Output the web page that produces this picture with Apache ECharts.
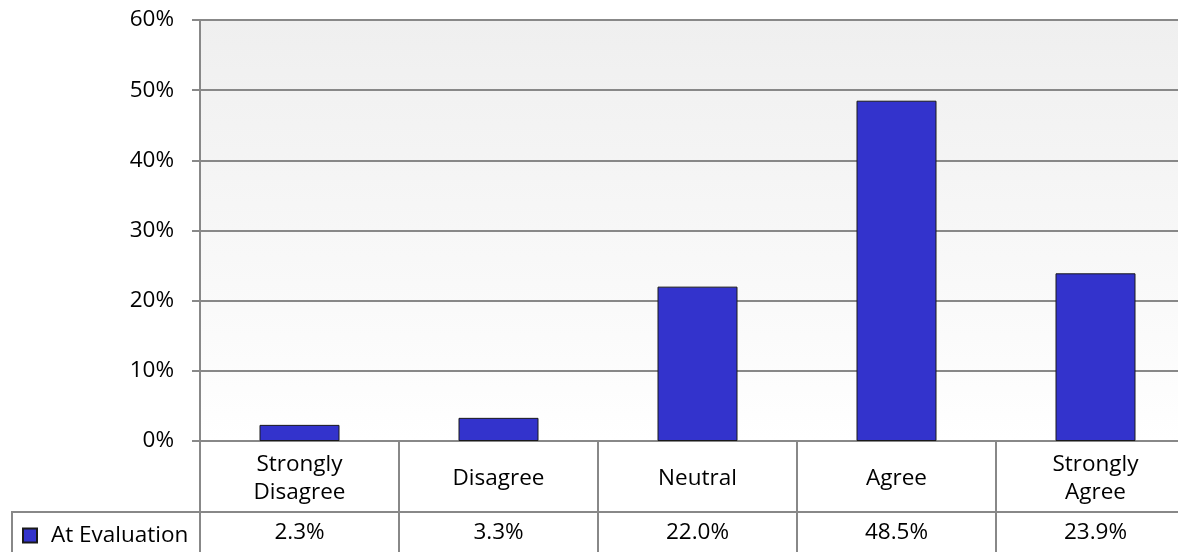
<!DOCTYPE html>
<html>
<head>
<meta charset="utf-8">
<style>
  html, body { margin: 0; padding: 0; background: #ffffff; }
  #chart { width: 1178px; height: 552px; }
</style>
<script src="https://cdn.jsdelivr.net/npm/echarts@6/dist/echarts.min.js"></script>
</head>
<body>
<div id="chart"></div>
<script>
// Survey responses, share of respondents per answer
const categories = ['Strongly\nDisagree', 'Disagree', 'Neutral', 'Agree', 'Strongly\nAgree'];
const seriesName = 'At Evaluation';
const atEvaluation = [2.3, 3.3, 22.0, 48.5, 23.9];
const yTicks = { min: 0, max: 60, interval: 10 };

const FONT = '"Open Sans"';
const FS = 22.5;
const LINE = '#888888';
const GRID = { left: 200, top: 20, width: 995, height: 421 };
const ROW1 = 71;   // category-label row height of the data table

const chart = echarts.init(document.getElementById('chart'), null, { renderer: 'canvas' });

const option = {
  animation: false,
  backgroundColor: '#ffffff',
  textStyle: { fontFamily: FONT },
  grid: {
    left: GRID.left, top: GRID.top, width: GRID.width, height: GRID.height,
    outerBoundsMode: 'none',
    containLabel: false,
    show: true,
    borderWidth: 0,
    backgroundColor: new echarts.graphic.LinearGradient(0, 0, 0, 1, [
      { offset: 0, color: '#efefef' },
      { offset: 1, color: '#ffffff' }
    ])
  },
  legend: {
    data: [{ name: seriesName, icon: 'rect' }],
    left: 17, top: 519,
    padding: 5,
    itemWidth: 14, itemHeight: 14, itemGap: 0,
    textStyle: { fontFamily: FONT, fontSize: FS, color: '#000', padding: [0, 0, 0, 9] }
  },
  xAxis: [
    {
      type: 'category',
      data: categories,
      position: 'bottom',
      boundaryGap: true,
      axisLine: { show: true, lineStyle: { color: LINE, width: 2 } },
      axisTick: { show: true, length: ROW1, lineStyle: { color: LINE, width: 2 } },
      axisLabel: {
        margin: 38, verticalAlign: 'middle', lineHeight: 28,
        fontFamily: FONT, fontSize: FS, color: '#000', interval: 0, align: 'center'
      }
    },
    {
      type: 'category',
      data: categories,
      position: 'bottom',
      offset: ROW1,
      boundaryGap: true,
      axisLine: { show: true, lineStyle: { color: LINE, width: 2 } },
      axisTick: { show: true, length: 50, lineStyle: { color: LINE, width: 2 } },
      axisLabel: {
        margin: 21, verticalAlign: 'middle',
        fontFamily: FONT, fontSize: FS, color: '#000', interval: 0,
        formatter: (v, i) => atEvaluation[i].toFixed(1) + '%'
      }
    }
  ],
  yAxis: {
    type: 'value',
    min: yTicks.min, max: yTicks.max, interval: yTicks.interval,
    axisLine: { show: true, lineStyle: { color: LINE, width: 2 } },
    axisTick: { show: true, length: 8, lineStyle: { color: LINE, width: 2 } },
    axisLabel: { margin: 26, fontFamily: FONT, fontSize: FS, color: '#000', formatter: '{value}%' },
    splitLine: { show: true, lineStyle: { color: LINE, width: 2 } }
  },
  series: [{
    name: seriesName,
    type: 'bar',
    xAxisIndex: 0,
    data: atEvaluation,
    barWidth: 80,
    itemStyle: { color: '#3333cc', borderColor: '#1a1a1a', borderWidth: 1 }
  }],
  graphic: [
    // legend cell of the data table
    { type: 'line', shape: { x1: 12, y1: 512, x2: 200, y2: 512 }, style: { stroke: LINE, lineWidth: 2 } },
    { type: 'line', shape: { x1: 12, y1: 511, x2: 12, y2: 560 }, style: { stroke: LINE, lineWidth: 2 } }
  ]
};

chart.setOption(option);
</script>
</body>
</html>
